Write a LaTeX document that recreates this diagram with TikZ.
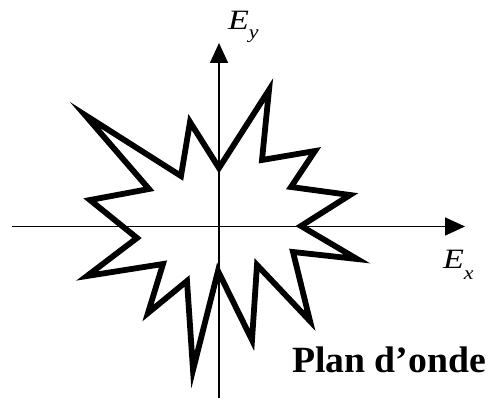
\documentclass[tikz,border=0pt]{standalone}
\usepackage{fontspec}
\setmainfont{Liberation Serif}
\usetikzlibrary{arrows.meta}
\tikzset{
  axisline/.style={line width=1.6pt, -{Triangle[length=20pt,width=18pt]}},
  starline/.style={line width=5.8pt, line join=miter, miter limit=12},
  lbl/.style={inner sep=0pt, outer sep=0pt}
}
\begin{document}
\begin{tikzpicture}[x=1pt,y=-1pt]
\useasboundingbox (0,0) rectangle (489,398);
% axes
\coordinate (xl) at (12,226.5);
\coordinate (xr) at (465,226.5);
\coordinate (yb) at (219,398);
\coordinate (yt) at (219,43);
\draw[axisline] (xl) -- (xr);
\draw[axisline] (yb) -- (yt);
% wave-front star
\draw[starline] (219,168) -- (269,90) -- (262,160) -- (315,151) -- (291,187)
  -- (350,195) -- (301,226) -- (357,259) -- (293,252) -- (310,321)
  -- (257,265) -- (252,340) -- (218,271) -- (193,370) -- (187,281)
  -- (148,313) -- (163,264) -- (87,276) -- (137,238) -- (90,200)
  -- (149,189) -- (85,115) -- (181,176) -- (190,122) -- cycle;
% labels
\node[lbl, anchor=base west] (ey) at (228,30)
  {\fontsize{28}{30}\selectfont\scalebox{1.22}[1]{\textit{E}}\raisebox{-0.32em}{\fontsize{19}{19}\selectfont\scalebox{1.15}[1]{\textit{y}}}};
\node[lbl, anchor=base west] (ex) at (443,268)
  {\fontsize{28}{30}\selectfont\scalebox{1.22}[1]{\textit{E}}\raisebox{-0.42em}{\fontsize{19}{19}\selectfont\scalebox{1.15}[1]{\textit{x}}}};
\node[lbl, anchor=base] (plan) at (389,372)
  {\fontsize{37}{40}\selectfont\bfseries\scalebox{1.02}[1]{Plan d’onde}};
\end{tikzpicture}
\end{document}
